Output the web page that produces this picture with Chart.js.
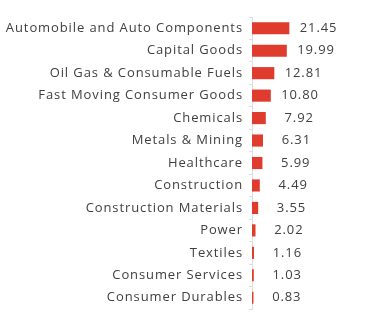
<!DOCTYPE html>
<html>
<head>
    <title>Sector Allocation</title>
    <script src="https://cdn.jsdelivr.net/npm/chart.js"></script>
    <style>
        html, body { margin: 0; padding: 0; background: #fff; }
        #wrap { width: 366px; height: 324px; }
    </style>
</head>
<body>
    <div id="wrap">
        <canvas id="sector_chart" width="366" height="324"></canvas>
    </div>
    <script>
        const sectors = [
            'Automobile and Auto Components',
            'Capital Goods',
            'Oil Gas & Consumable Fuels',
            'Fast Moving Consumer Goods',
            'Chemicals',
            'Metals & Mining',
            'Healthcare',
            'Construction',
            'Construction Materials',
            'Power',
            'Textiles',
            'Consumer Services',
            'Consumer Durables'
        ];
        const weights = [21.45, 19.99, 12.81, 10.80, 7.92, 6.31, 5.99, 4.49, 3.55, 2.02, 1.16, 1.03, 0.83];

        const labelFont = { family: 'Open Sans', size: 13 };
        const textColor = '#404040';

        // the source font is set quite loose, so widen the letter spacing a bit
        const spacing = {
            id: 'spacing',
            beforeDraw(chart) {
                chart.ctx.letterSpacing = '0.9px';
            }
        };

        // value labels right-aligned a bit past the end of each bar
        const valueLabels = {
            id: 'valueLabels',
            afterDatasetsDraw(chart) {
                const ctx = chart.ctx;
                const meta = chart.getDatasetMeta(0);
                ctx.save();
                ctx.font = labelFont.size + 'px "' + labelFont.family + '"';
                ctx.fillStyle = textColor;
                ctx.textAlign = 'right';
                ctx.textBaseline = 'middle';
                meta.data.forEach(function (bar, i) {
                    ctx.fillText(weights[i].toFixed(2), bar.x + 48, bar.y);
                });
                ctx.restore();
            }
        };

        const ctx = document.getElementById('sector_chart');
        new Chart(ctx, {
            type: 'bar',
            data: {
                labels: sectors,
                datasets: [{
                    data: weights,
                    backgroundColor: '#e03c2d',
                    borderWidth: 0,
                    barPercentage: 0.6,
                    categoryPercentage: 0.9
                }]
            },
            options: {
                indexAxis: 'y',
                responsive: false,
                animation: false,
                layout: { padding: { top: 17, bottom: 15, right: 6, left: 0 } },
                plugins: {
                    legend: { display: false },
                    tooltip: { enabled: false }
                },
                scales: {
                    x: {
                        display: false,
                        min: 0,
                        max: 62
                    },
                    y: {
                        afterFit: function (scale) { scale.width = 252; },
                        grid: {
                            drawOnChartArea: false,
                            tickLength: 3,
                            color: '#dddddd'
                        },
                        border: { color: '#dddddd' },
                        ticks: {
                            color: textColor,
                            font: labelFont,
                            padding: 6,
                            autoSkip: false
                        }
                    }
                }
            },
            plugins: [spacing, valueLabels]
        });
    </script>
</body>
</html>
